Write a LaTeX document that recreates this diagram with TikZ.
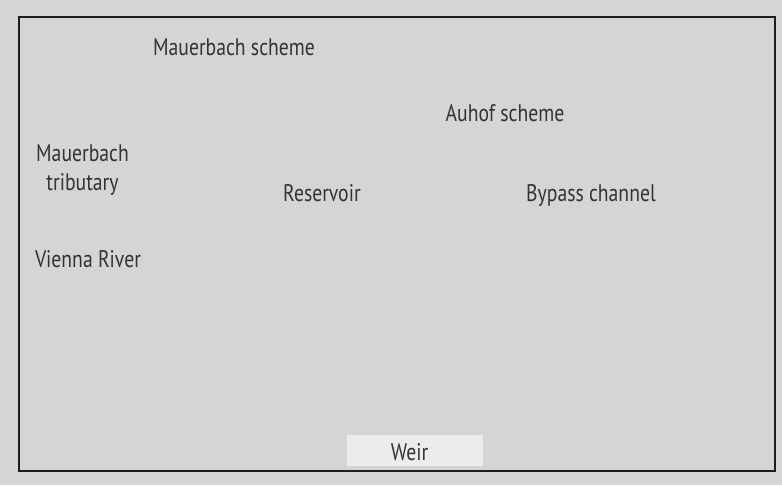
\documentclass[tikz,border=0pt]{standalone}
\usepackage{fontspec}
\setmainfont{PT Sans}[FakeStretch=0.82]
\definecolor{Fondo}{HTML}{D4D5D7}
\definecolor{Caja}{HTML}{ECECEE}
\definecolor{Texto}{HTML}{333333}
\definecolor{Borde}{HTML}{1E1E1E}
\tikzset{
    etiqueta/.style={text=Texto, font=\fontsize{24}{28.5}\selectfont,
        inner sep=0pt, align=center, anchor=base},
    caja/.style={fill=Caja, minimum width=136pt, minimum height=31pt,
        inner sep=0pt},
}

\begin{document}
\begin{tikzpicture}[x=1pt, y=-1pt]

\coordinate (O) at (0, 0);
\coordinate (P) at (782, 485);
\coordinate (A) at (19, 17);
\coordinate (B) at (775, 471);

% Fondo y marco
\fill[Fondo] (O) rectangle (P);
\useasboundingbox (O) rectangle (P);
\draw[Borde, line width=1.5pt] (A) rectangle (B);

% Vertedero
\node[caja] (weir) at (415, 450.5) {};
\node[etiqueta] (weirtxt) at (409.5, 460) {Weir};

% Nombres de las partes
\node[etiqueta] (mauerbach) at (234, 55) {Mauerbach scheme};
\node[etiqueta] (auhof) at (505, 121) {Auhof scheme};
\node[etiqueta] (tributary) at (82.5, 190) {Mauerbach\\tributary};
\node[etiqueta] (reservoir) at (322, 201.5) {Reservoir};
\node[etiqueta] (bypass) at (591, 201) {Bypass channel};
\node[etiqueta] (vienna) at (88, 267) {Vienna River};
\end{tikzpicture}
\end{document}
